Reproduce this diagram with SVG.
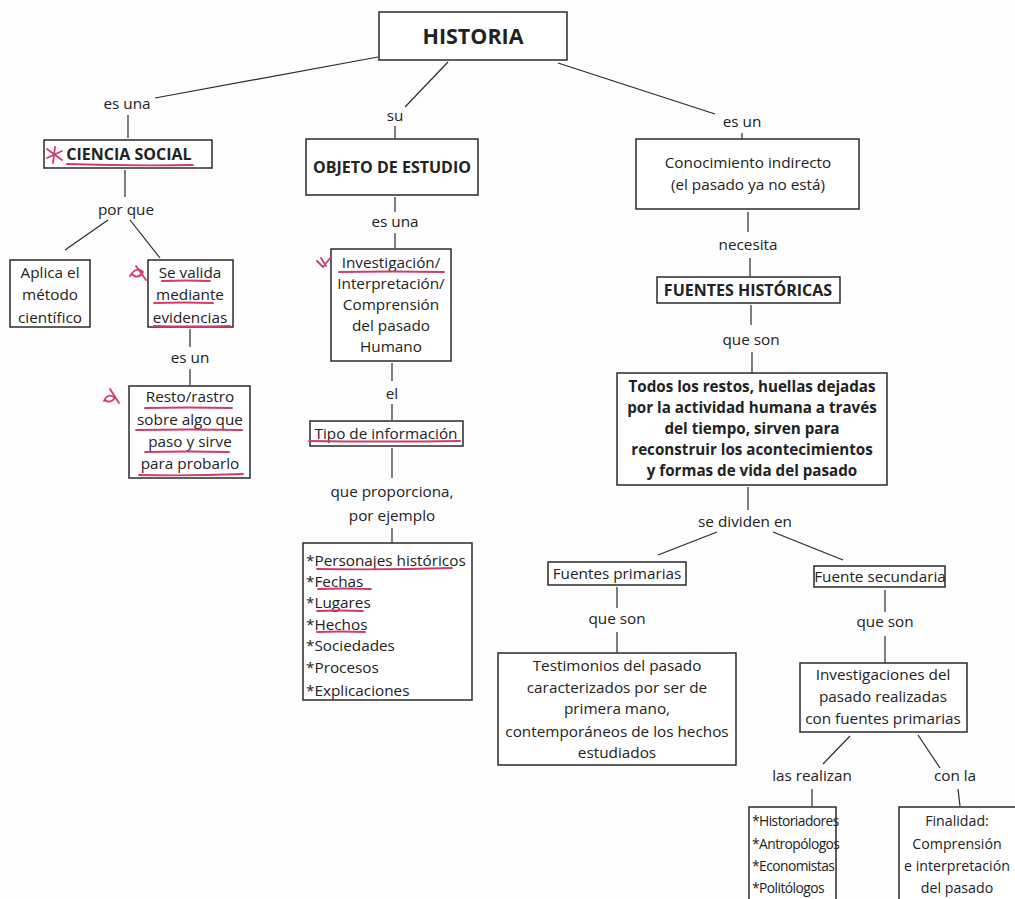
<svg xmlns="http://www.w3.org/2000/svg" width="1015" height="899" viewBox="0 0 1015 899">
  <style>
    .box { fill: #ffffff; stroke: #2a2a2a; stroke-width: 1.5; }
    .ln { stroke: #2a2a2a; stroke-width: 1.2; fill: none; }
    .t { font-family: "Open Sans", "Noto Sans", sans-serif; font-size: 15.3px; fill: #222; text-anchor: middle; }
    .tl { font-family: "Open Sans", "Noto Sans", sans-serif; font-size: 15.3px; fill: #222; text-anchor: start; }
    .s { font-size: 14.2px; }
    .xs { font-size: 13.8px; letter-spacing: -0.55px; }
    .b { font-family: "Open Sans", "Noto Sans", sans-serif; font-size: 15.2px; font-weight: bold; fill: #222; text-anchor: middle; }
    .h { font-family: "Open Sans", "Noto Sans", sans-serif; font-size: 16px; font-weight: bold; fill: #222; text-anchor: middle; }
    .title { font-family: "Open Sans", "Noto Sans", sans-serif; font-size: 21.5px; font-weight: bold; fill: #222; text-anchor: middle; }
    .pen { stroke: #d23a6e; stroke-width: 1.8; fill: none; stroke-linecap: round; stroke-linejoin: round; }
  </style>
  <rect width="1015" height="899" fill="#fdfdfd"/>

  <!-- connectors and link labels -->
  <g id="connectors">
    <line class="ln" x1="378" y1="57" x2="155" y2="98"/>
    <line class="ln" x1="448" y1="62" x2="405" y2="107"/>
    <line class="ln" x1="558" y1="63" x2="715" y2="114"/>
    <line class="ln" x1="128" y1="115" x2="128" y2="138"/>
    <line class="ln" x1="125" y1="170" x2="125" y2="197"/>
    <line class="ln" x1="108" y1="220" x2="65" y2="250"/>
    <line class="ln" x1="130" y1="220" x2="160" y2="258"/>
    <line class="ln" x1="190" y1="329" x2="190" y2="347"/>
    <line class="ln" x1="190" y1="369" x2="190" y2="385"/>
    <line class="ln" x1="395" y1="126" x2="395" y2="138"/>
    <line class="ln" x1="395" y1="197" x2="395" y2="212"/>
    <line class="ln" x1="395" y1="233" x2="395" y2="248"/>
    <line class="ln" x1="392" y1="363" x2="392" y2="381"/>
    <line class="ln" x1="392" y1="404" x2="392" y2="420"/>
    <line class="ln" x1="392" y1="448" x2="392" y2="478"/>
    <line class="ln" x1="392" y1="528" x2="392" y2="543"/>
    <line class="ln" x1="742" y1="133" x2="742" y2="139"/>
    <line class="ln" x1="748" y1="212" x2="748" y2="232"/>
    <line class="ln" x1="750" y1="258" x2="750" y2="277"/>
    <line class="ln" x1="751" y1="305" x2="751" y2="325"/>
    <line class="ln" x1="752" y1="352" x2="752" y2="373"/>
    <line class="ln" x1="748" y1="487" x2="748" y2="510"/>
    <line class="ln" x1="717" y1="532" x2="658" y2="555"/>
    <line class="ln" x1="773" y1="532" x2="843" y2="560"/>
    <line class="ln" x1="617" y1="587" x2="617" y2="608"/>
    <line class="ln" x1="617" y1="632" x2="617" y2="653"/>
    <line class="ln" x1="885" y1="590" x2="885" y2="612"/>
    <line class="ln" x1="885" y1="636" x2="885" y2="663"/>
    <line class="ln" x1="850" y1="736" x2="823" y2="764"/>
    <line class="ln" x1="918" y1="735" x2="940" y2="768"/>
    <line class="ln" x1="812" y1="789" x2="812" y2="806"/>
    <line class="ln" x1="958" y1="789" x2="960" y2="806"/>

    <text class="t" x="127" y="109">es una</text>
    <text class="t" x="395" y="121">su</text>
    <text class="t" x="742" y="127">es un</text>
    <text class="t" x="126" y="215">por que</text>
    <text class="t" x="190" y="363">es un</text>
    <text class="t" x="395" y="227">es una</text>
    <text class="t" x="392" y="399">el</text>
    <text class="t" x="392" y="497">que proporciona,</text>
    <text class="t" x="392" y="521">por ejemplo</text>
    <text class="t" x="748" y="250">necesita</text>
    <text class="t" x="751" y="345">que son</text>
    <text class="t" x="745" y="527">se dividen en</text>
    <text class="t" x="617" y="624">que son</text>
    <text class="t" x="885" y="627">que son</text>
    <text class="t" x="812" y="781">las realizan</text>
    <text class="t" x="955" y="781">con la</text>
  </g>

  <g id="historia">
    <rect class="box" x="379" y="12" width="188" height="48"/>
    <text class="title" x="473" y="44">HISTORIA</text>
  </g>

  <g id="ciencia-social">
    <rect class="box" x="44" y="140" width="168" height="28"/>
    <text class="h" x="129" y="160">CIENCIA SOCIAL</text>
  </g>

  <g id="metodo">
    <rect class="box" x="10" y="260" width="80" height="67"/>
    <text class="t" x="50" y="278">Aplica el</text>
    <text class="t" x="50" y="300">método</text>
    <text class="t" x="50" y="323">científico</text>
  </g>

  <g id="evidencias">
    <rect class="box" x="148" y="260" width="85" height="67"/>
    <text class="t" x="190" y="278">Se valida</text>
    <text class="t" x="190" y="300">mediante</text>
    <text class="t" x="190" y="323">evidencias</text>
  </g>

  <g id="resto">
    <rect class="box" x="129" y="386" width="121" height="92"/>
    <text class="t" x="190" y="402">Resto/rastro</text>
    <text class="t" x="190" y="425">sobre algo que</text>
    <text class="t" x="190" y="447">paso y sirve</text>
    <text class="t" x="190" y="469">para probarlo</text>
  </g>

  <g id="objeto">
    <rect class="box" x="306" y="139" width="172" height="56"/>
    <text class="h" x="392" y="173">OBJETO DE ESTUDIO</text>
  </g>

  <g id="investigacion">
    <rect class="box" x="331" y="249" width="120" height="112"/>
    <text class="t" x="391" y="268">Investigación/</text>
    <text class="t" x="391" y="289">Interpretación/</text>
    <text class="t" x="391" y="310">Comprensión</text>
    <text class="t" x="391" y="331">del pasado</text>
    <text class="t" x="391" y="352">Humano</text>
  </g>

  <g id="tipo-informacion">
    <rect class="box" x="310" y="421" width="153" height="25"/>
    <text class="t" x="386" y="439">Tipo de información</text>
  </g>

  <g id="ejemplos">
    <rect class="box" x="303" y="543" width="169" height="157"/>
    <text class="tl" x="306" y="566">*Personajes históricos</text>
    <text class="tl" x="306" y="587">*Fechas</text>
    <text class="tl" x="306" y="608">*Lugares</text>
    <text class="tl" x="306" y="630">*Hechos</text>
    <text class="tl" x="306" y="651">*Sociedades</text>
    <text class="tl" x="306" y="673">*Procesos</text>
    <text class="tl" x="306" y="696">*Explicaciones</text>
  </g>

  <g id="conocimiento">
    <rect class="box" x="636" y="139" width="223" height="70"/>
    <text class="t" x="748" y="168">Conocimiento indirecto</text>
    <text class="t" x="748" y="190">(el pasado ya no está)</text>
  </g>

  <g id="fuentes">
    <rect class="box" x="657" y="277" width="183" height="26"/>
    <text class="h" x="748" y="296">FUENTES HISTÓRICAS</text>
  </g>

  <g id="definicion">
    <rect class="box" x="617" y="373" width="270" height="112"/>
    <text class="b" x="752" y="392">Todos los restos, huellas dejadas</text>
    <text class="b" x="752" y="413">por la actividad humana a través</text>
    <text class="b" x="752" y="434">del tiempo, sirven para</text>
    <text class="b" x="752" y="455">reconstruir los acontecimientos</text>
    <text class="b" x="752" y="476">y formas de vida del pasado</text>
  </g>

  <g id="primarias">
    <rect class="box" x="548" y="562" width="138" height="23"/>
    <text class="t" x="617" y="579">Fuentes primarias</text>
  </g>

  <g id="secundaria">
    <rect class="box" x="814" y="566" width="131" height="21"/>
    <text class="t" x="880" y="582">Fuente secundaria</text>
  </g>

  <g id="testimonios">
    <rect class="box" x="498" y="653" width="238" height="112"/>
    <text class="t" x="617" y="671">Testimonios del pasado</text>
    <text class="t" x="617" y="693">caracterizados por ser de</text>
    <text class="t" x="617" y="714">primera mano,</text>
    <text class="t" x="617" y="737">contemporáneos de los hechos</text>
    <text class="t" x="617" y="758">estudiados</text>
  </g>

  <g id="investigaciones">
    <rect class="box" x="800" y="663" width="167" height="69"/>
    <text class="t" x="883" y="680">Investigaciones del</text>
    <text class="t" x="883" y="702">pasado realizadas</text>
    <text class="t" x="883" y="724">con fuentes primarias</text>
  </g>

  <g id="autores">
    <rect class="box" x="749" y="807" width="87" height="100"/>
    <text class="tl xs" x="752" y="826">*Historiadores</text>
    <text class="tl xs" x="752" y="849">*Antropólogos</text>
    <text class="tl xs" x="752" y="871">*Economistas</text>
    <text class="tl xs" x="752" y="893">*Politólogos</text>
  </g>

  <g id="finalidad">
    <rect class="box" x="899" y="807" width="130" height="100"/>
    <text class="t s" x="957" y="826">Finalidad:</text>
    <text class="t s" x="957" y="849">Comprensión</text>
    <text class="t s" x="957" y="871">e interpretación</text>
    <text class="t s" x="957" y="893">del pasado</text>
  </g>

  <!-- handwritten pen marks -->
  <g id="annotations">
    <path class="pen" d="M47 149 L62 160 M55 147 L53 163 M47 158 L62 151"/>
    <path class="pen" d="M67 164 Q130 166 193 165"/>
    <path class="pen" d="M317 261 L323 267 L331 257 M321 258 L326 266"/>
    <path class="pen" d="M130 276 Q136 266 143 272 Q138 280 132 274 M136 266 L146 280"/>
    <path class="pen" d="M104 401 Q108 392 115 398 Q110 404 105 400 M110 389 L119 403"/>
    <path class="pen" d="M162 281 Q186 280 210 281"/>
    <path class="pen" d="M154 303 Q183 302 213 303"/>
    <path class="pen" d="M154 326 Q192 327 230 326"/>
    <path class="pen" d="M145 408 Q188 407 232 408"/>
    <path class="pen" d="M136 430 Q189 429 242 430"/>
    <path class="pen" d="M145 452 Q187 451 229 452"/>
    <path class="pen" d="M139 475 Q190 476 243 474"/>
    <path class="pen" d="M339 272 Q391 271 444 272"/>
    <path class="pen" d="M309 441 Q384 442 460 441"/>
    <path class="pen" d="M317 569 Q384 570 452 568"/>
    <path class="pen" d="M318 589 Q344 588 371 589"/>
    <path class="pen" d="M317 611 Q340 610 363 611"/>
    <path class="pen" d="M317 632 Q341 631 365 632"/>
  </g>
</svg>
